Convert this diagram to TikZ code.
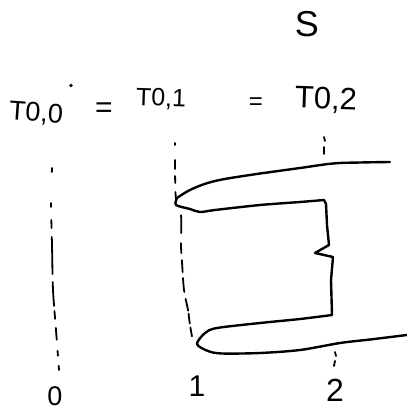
\documentclass[tikz,border=0pt]{standalone}
\usepackage{fontspec}
\setmainfont{Liberation Sans}
\usepackage{tikz}
\usetikzlibrary{calc,positioning}
\tikzset{
  strand/.style={line width=2.4pt, line cap=round, line join=round},
  guide/.style={line width=1.8pt, line cap=round},
  hand/.style={inner sep=0pt, anchor=center},
}
\newcommand{\lblsize}[1]{\fontsize{#1}{#1}\selectfont}
\begin{document}
\begin{tikzpicture}[x=1pt,y=-1pt]
  \useasboundingbox[fill=white] (0,0) rectangle (407,410);

  % Title
  \node[hand] (title) at (307,24) {\lblsize{36}S};

  % Top row
  \node[hand, rotate=-4] (t00) at (36,114) {\lblsize{27}T0,0};
  \node[hand] (eqa) at (104,110) {\lblsize{30}=};
  \node[hand, rotate=-2] (t01) at (161,99) {\lblsize{25}T0,1};
  \node[hand] (eqb) at (256,104) {\lblsize{24}=};
  \node[hand, rotate=-2] (t02) at (326,100) {\lblsize{31}T0,2};
  \fill (71,85.5) circle (1.9pt);

  % Bottom row
  \node[hand] (n0) at (55,396) {\lblsize{27}0};
  \node[hand] (n1) at (197,386) {\lblsize{30}1};
  \node[hand] (n2) at (335,390) {\lblsize{32}2};

  % Dashed guides
  \draw[guide, dash pattern=on 4pt off 31pt on 4pt off 13pt on 8pt off 9pt on 37pt off 8pt on 24pt off 5pt on 8pt off 9pt on 12pt off 11pt on 5pt off 10pt on 5pt off 20pt]
    plot[smooth] coordinates {(52,168) (51,203) (52,245) (53,290) (56,330) (59,370)};
  \draw[guide, dash pattern=on 2pt off 15pt on 9pt off 7pt on 7pt off 9pt on 9pt off 15pt on 18pt off 10pt on 10pt off 7pt on 12pt off 6pt on 14pt off 7pt on 12pt off 3pt on 10pt off 4pt on 9pt off 10pt]
    plot[smooth] coordinates {(175,143) (175,170) (176,199) (181,215) (181,245) (182,262) (184,290) (188,310) (190,325) (193,342)};
  \draw[guide] (324,137) -- (325,141);
  \draw[guide] (324,147) -- (324,154);
  \draw[guide] (335,352) -- (336,356);
  \draw[guide] (335,361) -- (334,366);

  % Upper strand
  \draw[strand] plot[smooth, tension=0.6] coordinates
    {(390,162) (360,162.5) (333,163.5) (300,168) (250,175) (215,181) (192,189) (177,198)};
  \draw[strand] plot[smooth, tension=0.5] coordinates
    {(177,198) (176,205) (190,209) (200,212) (215,210) (260,205) (300,202) (324,200)};

  % Right side with notch
  \draw[strand] (324,200) -- (326,204) -- (327,225) -- (329,245) -- (315,253) -- (333,257)
    -- (331,280) -- (332,315);

  % Lower strand
  \draw[strand] plot[smooth, tension=0.5] coordinates
    {(332,315) (300,319) (260,323) (217,328) (205,333) (197,344) (208,351) (222,353.5)
     (260,353) (300,350) (340,343) (370,339.5) (407,335)};
\end{tikzpicture}
\end{document}
